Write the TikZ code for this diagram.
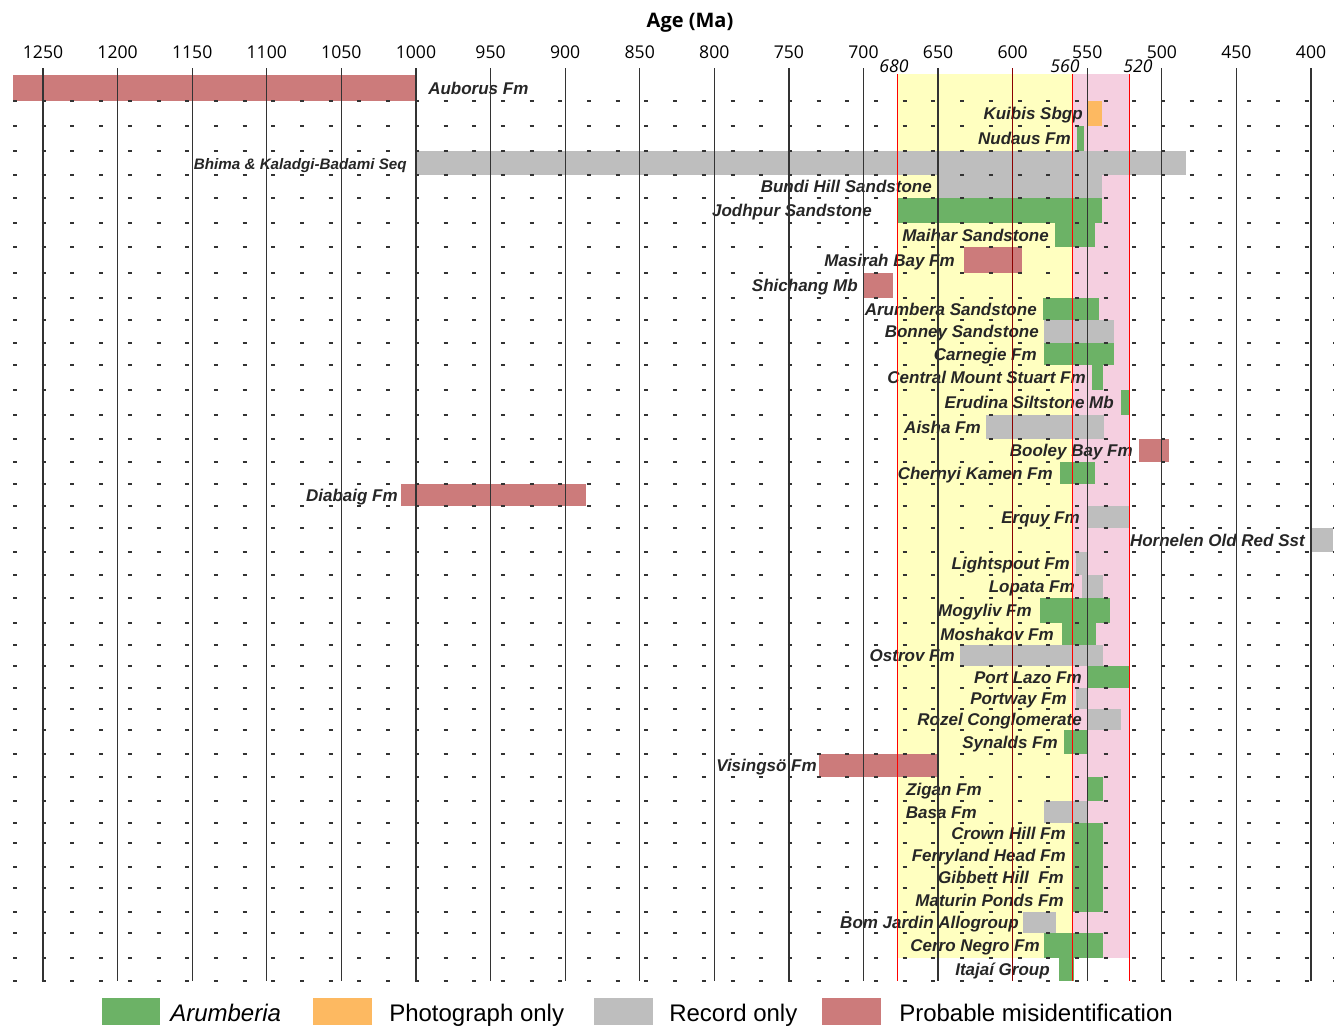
\documentclass[tikz,border=0pt]{standalone}
\usepackage{fontspec}
\setmainfont{Liberation Sans}
\newfontfamily\axisfont{Open Sans}
\usepackage{xcolor}
\usetikzlibrary{positioning}

\definecolor{arum}{RGB}{108,178,102}
\definecolor{photo}{RGB}{253,185,97}
\definecolor{rec}{RGB}{190,190,190}
\definecolor{mis}{RGB}{204,123,123}
\definecolor{bandyellow}{RGB}{255,255,192}
\definecolor{bandpink}{RGB}{245,207,224}
\newcommand\seqsize{\fontsize{11.4}{13}\selectfont}

\begin{document}
\begin{tikzpicture}[
            x=0.75pt, y=-0.75pt,
            declare function={ax(\a)=1907.75-1.4918*\a;},
            % Styles for the age chart
            lbl/.style={inner sep=0pt, anchor=base east, text=black!85,
                    font=\fontsize{12.75}{15}\selectfont\bfseries\itshape},
            tick/.style={inner sep=0pt, font=\axisfont\fontsize{13.2}{15}\selectfont},
            bound/.style={inner sep=0pt, font=\axisfont\fontsize{13.2}{15}\selectfont\itshape},
            legtext/.style={inner sep=0pt, anchor=base west, font=\fontsize{18}{20}\selectfont},
            gridline/.style={black!80, line width=0.9pt},
            rowline/.style={black!80, line width=0.8pt, dash pattern=on 3pt off 18.525pt},
            limit/.style={red, line width=0.75pt},
        ]
            \useasboundingbox (0,0) rectangle (1334,1025);

            % === BANDS ===
            \fill[bandyellow] ({ax(677.5)},74) rectangle ({ax(560)},958);
            \fill[bandpink] ({ax(560)},74) rectangle ({ax(521.7)},958);

            % === BARS AND LABELS ===
            \fill[mis] ({ax(1270)},75) rectangle ({ax(1000)},101);
            \foreach \yt/\yb/\ao/\ay/\col/\lx/\txt in {
                    101/126/550/540/photo/1083/{Kuibis Sbgp},
                    126/151/557/552.5/arum/1071/{Nudaus Fm},
                    151/175/1000/484/rec/407/{\seqsize Bhima \& Kaladgi-Badami Seq},
                    175/198/650/540/rec/932/{Bundi Hill Sandstone},
                    198/223/677.7/540/arum/872/{Jodhpur Sandstone},
                    223/247/571.5/544.5/arum/1049/{Maihar Sandstone},
                    247/273/632.5/593.5/mis/955/{Masirah Bay Fm},
                    273/298/700/680/mis/858/{Shichang Mb},
                    298/320/580/542/arum/1037/{Arumbera Sandstone},
                    320/343/579/532/rec/1039/{Bonney Sandstone},
                    343/365/579/532/arum/1037/{Carnegie Fm},
                    365/390/546.5/539.5/arum/1086/{Central Mount Stuart Fm},
                    390/415/527.5/522/arum/1114/{Erudina Siltstone Mb},
                    415/439/618/538.5/rec/981/{Aisha Fm},
                    439/462/515/495/mis/1133/{Booley Bay Fm},
                    462/484/568.5/545/arum/1053/{Chernyi Kamen Fm},
                    484/506/1010/886/mis/398/{Diabaig Fm},
                    506/528/549.5/522/rec/1080/{Erquy Fm},
                    528/552/399.5/385/rec/1305/{Hornelen Old Red Sst},
                    552/575/557.5/550/rec/1070/{Lightspout Fm},
                    575/598/553.7/539.6/rec/1075/{Lopata Fm},
                    598/623/582/535/arum/1032/{Mogyliv Fm},
                    623/645/566.7/544.3/arum/1054/{Moshakov Fm},
                    645/666/635.3/539.3/rec/955/{Ostrov Fm},
                    666/688/549.5/522/arum/1082/{Port Lazo Fm},
                    688/709/557.5/550/rec/1067/{Portway Fm},
                    709/730/549.5/527.5/rec/1082/{Rozel Conglomerate},
                    730/754/565.4/550/arum/1058/{Synalds Fm},
                    754/777/730/650/mis/817/{Visingsö Fm},
                    777/801/549.5/539.5/arum/982/{Zigan Fm},
                    801/823/579/550/rec/977/{Basa Fm},
                    823/843/560/539.5/arum/1066/{Crown Hill Fm},
                    843/867/560/539.5/arum/1066/{Ferryland Head Fm},
                    867/888/560/539.5/arum/1064/{Gibbett Hill\ \ Fm},
                    888/912/560/539.5/arum/1064/{Maturin Ponds Fm},
                    912/933/593.3/571.2/rec/1019/{Bom Jardin Allogroup},
                    933/958/579/539.5/arum/1040/{Cerro Negro Fm},
                    958/981/568.7/559/arum/1050/{Itajaí Group}} {
                \fill[\col] ({ax(\ao)},\yt) rectangle ({ax(\ay)},\yb);
                \node[lbl] (row\yt) at (\lx,{(\yt+\yb)/2+6.1}) {\txt};
            }
            \node[lbl, anchor=base west] (row75) at (428,94.1) {Auborus Fm};

            % === GRID ===
            \foreach \y in {101,126,151,175,198,223,247,273,298,320,343,365,390,415,439,
                    462,484,506,528,552,575,598,623,645,666,688,709,730,754,777,801,
                    823,843,867,888,912,933,958,981}
                \draw[rowline] (13,\y) -- (1334,\y);
            \foreach \a in {1250,1200,...,400} {
                \draw[gridline] ({ax(\a)},68) -- ({ax(\a)},981);
                \node[tick] (tick\a) at ({ax(\a)},52) {\a};
            }
            \draw[limit] ({ax(677.5)},74) -- ({ax(677.5)},981);
            \draw[limit] ({ax(560)},74) -- ({ax(560)},981);
            \draw[limit] ({ax(521.7)},74) -- ({ax(521.7)},981);
            \draw[red!55!black, line width=0.9pt] ({ax(600)},68) -- ({ax(600)},981);
            \node[bound] (b680) at (894,66) {680};
            \node[bound] (b560) at (1065,66) {560};
            \node[bound] (b520) at (1138,66) {520};
            \node[inner sep=0pt, font=\axisfont\fontsize{15}{17}\selectfont\bfseries] (title) at (690,23) {Age (Ma)};

            % === LEGEND ===
            \fill[arum] (102,998) rectangle (160,1025);
            \node[legtext] (legarum) at (170,1021.7) {\itshape Arumberia};
            \fill[photo] (313,998) rectangle (372,1025);
            \node[legtext] (legphoto) at (389,1021.7) {Photograph only};
            \fill[rec] (594,998) rectangle (653,1025);
            \node[legtext] (legrec) at (669,1021.7) {Record only};
            \fill[mis] (822,998) rectangle (881,1025);
            \node[legtext] (legmis) at (899,1021.7) {Probable misidentification};

        \end{tikzpicture}
\end{document}
